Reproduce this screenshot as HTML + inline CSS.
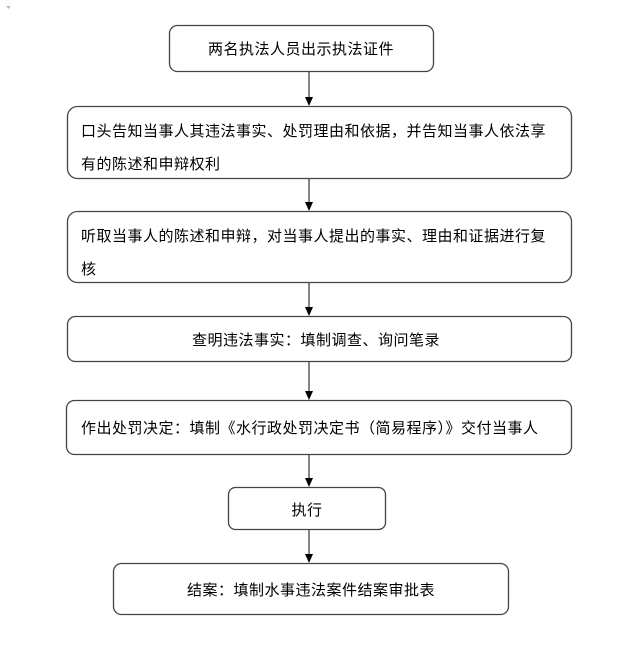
<!DOCTYPE html>
<html><head><meta charset="utf-8"><style>
body{margin:0;background:#fff}
svg text{font-family:"Liberation Sans","Noto Sans CJK SC","WenQuanYi Zen Hei",sans-serif;font-size:15px;letter-spacing:0.5px;fill:#000}
</style></head><body>
<svg width="637" height="660" viewBox="0 0 637 660" xmlns="http://www.w3.org/2000/svg">
<path d="M6,6 L11,6 L8.5,9 z" fill="#bbb"/>
<g fill="none" stroke="#444" stroke-width="1.3">
<rect x="169.5" y="25.5" width="264" height="46" rx="8"/>
<rect x="67.5" y="106.5" width="504" height="72" rx="10"/>
<rect x="67.5" y="211.5" width="504" height="71" rx="10"/>
<rect x="67.5" y="316.5" width="504" height="45" rx="8"/>
<rect x="66.5" y="400.5" width="505" height="54" rx="8"/>
<rect x="228.5" y="487.5" width="157" height="42" rx="7"/>
<rect x="113.5" y="563.5" width="395" height="51" rx="8"/>
</g>
<g stroke="#444" stroke-width="1.3">
<line x1="309" y1="72" x2="309" y2="98"/>
<line x1="309" y1="179" x2="309" y2="203"/>
<line x1="309" y1="283" x2="309" y2="308"/>
<line x1="309" y1="362" x2="309" y2="392"/>
<line x1="309" y1="455" x2="309" y2="479"/>
<line x1="309" y1="530" x2="309" y2="555"/>
</g>
<g fill="#000">
<path d="M305,97 L313,97 L309,106 z"/>
<path d="M305,202 L313,202 L309,211 z"/>
<path d="M305,307 L313,307 L309,316 z"/>
<path d="M305,391 L313,391 L309,400 z"/>
<path d="M305,478 L313,478 L309,487 z"/>
<path d="M305,554 L313,554 L309,563 z"/>
</g>
<text x="301" y="54" text-anchor="middle">两名执法人员出示执法证件</text>
<text x="81" y="136">口头告知当事人其违法事实、处罚理由和依据，并告知当事人依法享</text>
<text x="81" y="169">有的陈述和申辩权利</text>
<text x="81" y="241">听取当事人的陈述和申辩，对当事人提出的事实、理由和证据进行复</text>
<text x="81" y="274">核</text>
<text x="316" y="345" text-anchor="middle">查明违法事实：填制调查、询问笔录</text>
<text x="81" y="433">作出处罚决定：填制《水行政处罚决定书（简易程序）》交付当事人</text>
<text x="307" y="515" text-anchor="middle">执行</text>
<text x="311" y="595" text-anchor="middle">结案：填制水事违法案件结案审批表</text>
</svg>
</body></html>
